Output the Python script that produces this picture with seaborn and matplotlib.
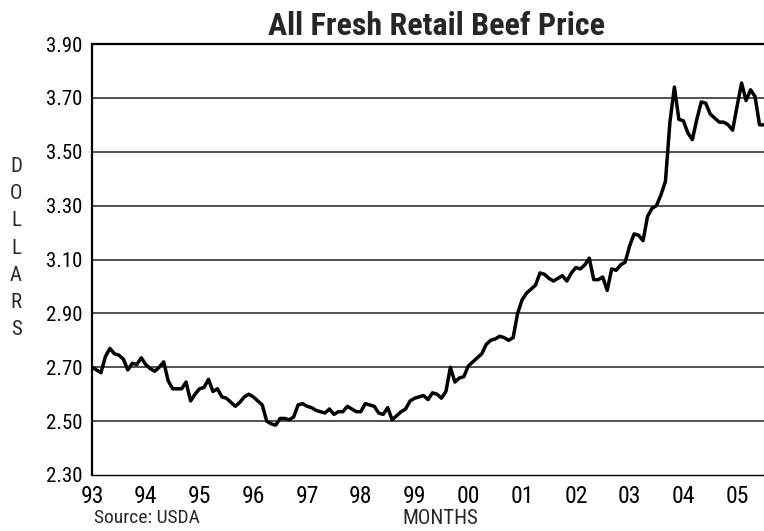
import matplotlib
matplotlib.use("Agg")
import matplotlib.pyplot as plt
from matplotlib import font_manager
from matplotlib.ticker import MultipleLocator, FixedLocator
import seaborn as sns
import pandas as pd
import numpy as np

# Monthly price, Jan 1993 .. Jul 2005 (dollars per pound)
prices = [
    2.70, 2.69, 2.68, 2.74, 2.77, 2.75, 2.745, 2.73, 2.69, 2.715, 2.71, 2.735,   # 93
    2.71, 2.695, 2.685, 2.70, 2.72, 2.65, 2.62, 2.62, 2.62, 2.645, 2.575, 2.60,  # 94
    2.62, 2.625, 2.655, 2.61, 2.62, 2.59, 2.585, 2.57, 2.555, 2.57, 2.59, 2.60,  # 95
    2.59, 2.575, 2.56, 2.50, 2.49, 2.485, 2.51, 2.51, 2.505, 2.515, 2.56, 2.565, # 96
    2.555, 2.55, 2.54, 2.535, 2.53, 2.545, 2.525, 2.535, 2.535, 2.555, 2.545, 2.535,  # 97
    2.535, 2.565, 2.56, 2.555, 2.53, 2.525, 2.55, 2.505, 2.52, 2.535, 2.545, 2.575,   # 98
    2.585, 2.59, 2.595, 2.58, 2.605, 2.60, 2.585, 2.61, 2.70, 2.645, 2.66, 2.665,     # 99
    2.705, 2.72, 2.735, 2.75, 2.785, 2.80, 2.805, 2.815, 2.81, 2.80, 2.81, 2.90,      # 00
    2.95, 2.975, 2.99, 3.005, 3.05, 3.045, 3.03, 3.02, 3.03, 3.04, 3.02, 3.05,        # 01
    3.07, 3.065, 3.08, 3.105, 3.025, 3.025, 3.035, 2.985, 3.065, 3.06, 3.08, 3.09,    # 02
    3.15, 3.195, 3.19, 3.17, 3.26, 3.29, 3.30, 3.34, 3.39, 3.61, 3.74, 3.62,          # 03
    3.615, 3.57, 3.545, 3.62, 3.685, 3.68, 3.64, 3.625, 3.61, 3.61, 3.60, 3.58,       # 04
    3.67, 3.755, 3.69, 3.73, 3.705, 3.60, 3.60,                                       # 05
]
year_labels = ["93", "94", "95", "96", "97", "98", "99", "00", "01", "02", "03", "04", "05"]
y_ticks = [2.30, 2.50, 2.70, 2.90, 3.10, 3.30, 3.50, 3.70, 3.90]

title = "All Fresh Retail Beef Price"
source = "Source: USDA"
xlabel = "MONTHS"
ylabel = "DOLLARS"

df = pd.DataFrame({"month": np.arange(len(prices)), "price": prices})

sns.set_style("white")
names = {f.name for f in font_manager.fontManager.ttflist}
narrow = "Liberation Sans"
for cand in ["Roboto Condensed", "PT Sans Narrow", "Archivo Narrow", "Liberation Sans Narrow"]:
    if cand in names:
        narrow = cand
        break
plt.rcParams["font.family"] = [narrow, "DejaVu Sans"]

fig = plt.figure(figsize=(7.64, 5.31), dpi=100)
ax = fig.add_axes([92 / 764, 1 - 475 / 531, 1 - 92 / 764, (475 - 44) / 531])

sns.lineplot(data=df, x="month", y="price", ax=ax, color="black", linewidth=2.5)

ax.set_xlim(0, len(prices) - 1)
ax.set_ylim(2.30, 3.90)

ax.yaxis.set_major_locator(FixedLocator(y_ticks))
ax.set_yticklabels([f"{v:.2f}" for v in y_ticks])
ax.xaxis.set_major_locator(FixedLocator([12 * i for i in range(len(year_labels))]))
ax.set_xticklabels(year_labels)
ax.xaxis.set_minor_locator(MultipleLocator(1))

for v in y_ticks[1:]:
    ax.axhline(v, color="#222222", linewidth=1.1, zorder=0)

ax.tick_params(axis="x", which="major", direction="inout", length=7, width=0.8,
               labelsize=17, pad=4, colors="black")
ax.tick_params(axis="x", which="minor", direction="inout", length=6, width=0.7, colors="black")
ax.tick_params(axis="y", which="major", direction="out", length=3, width=0.8,
               labelsize=15, pad=4, colors="black")

for side in ["left", "bottom", "top"]:
    ax.spines[side].set_visible(True)
    ax.spines[side].set_color("black")
ax.spines["left"].set_linewidth(1.6)
ax.spines["bottom"].set_linewidth(1.0)
ax.spines["top"].set_linewidth(1.6)
ax.spines["right"].set_visible(False)
ax.set_xlabel("")
ax.set_ylabel("")

fig.text(437 / 764, 1 - 26 / 531, title, ha="center", va="center",
         fontsize=23, fontweight="bold")
fig.text(94 / 764, 1 - 518 / 531, source, ha="left", va="center", fontsize=14)
fig.text(440 / 764, 1 - 518 / 531, xlabel, ha="center", va="center", fontsize=15)
fig.text(16 / 764, 1 - 248 / 531, "\n".join(ylabel), ha="center", va="center",
         fontsize=15, linespacing=1.55)

fig.savefig("out.png", dpi=100)
